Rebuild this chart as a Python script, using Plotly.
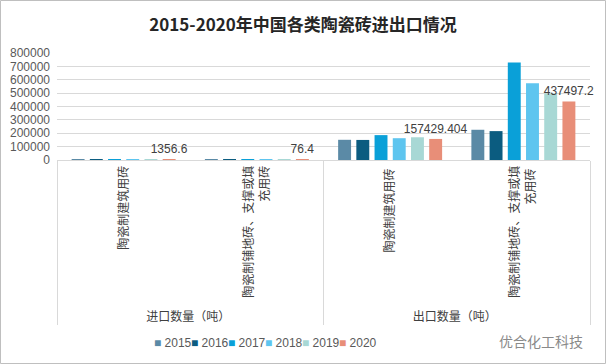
import plotly.graph_objects as go

years = ["2015", "2016", "2017", "2018", "2019", "2020"]
groups = ["进口数量（吨）", "进口数量（吨）", "出口数量（吨）", "出口数量（吨）"]
subcats = ["陶瓷制建筑用砖", "陶瓷制铺地砖、支撑或填<br>充用砖",
           "陶瓷制建筑用砖 ", "陶瓷制铺地砖、支撑或填<br>充用砖 "]

v2015 = [2500, 300, 151000, 226000]
v2016 = [2200, 250, 150000, 216000]
v2017 = [1900, 200, 186000, 729000]
v2018 = [1700, 150, 163000, 574000]
v2019 = [1500, 100, 170000, 498000]
v2020 = [1356.6, 76.4, 157429.404, 437497.2]
series = [v2015, v2016, v2017, v2018, v2019, v2020]
colors = ["#5b8aa6", "#0b5c80", "#0aa0d8", "#5ec5ef", "#a8d8d5", "#e88e78"]

W, H = 606, 364
ml, mr, mt, mb = 57, 16, 53, 204

fig = go.Figure()
for i, (yr, vals, c) in enumerate(zip(years, series, colors)):
    kw = {}
    if yr == "2020":
        kw = dict(text=[str(v) for v in vals], textposition="outside",
                  textfont=dict(size=12, color="#404040", family="Liberation Sans, Arial"),
                  constraintext="none", cliponaxis=False)
    fig.add_trace(go.Bar(name=yr, x=[groups, subcats], y=vals,
                         marker=dict(color=c, line=dict(width=0)), **kw))

fig.update_layout(
    width=W, height=H,
    margin=dict(l=ml, r=mr, t=mt, b=mb, autoexpand=False),
    paper_bgcolor="white", plot_bgcolor="white",
    barmode="group", bargap=0.18, bargroupgap=0.29,
    font=dict(family="Noto Sans CJK SC, sans-serif", size=12, color="#595959"),
    title=dict(text="<b>2015-2020年中国各类陶瓷砖进出口情况</b>", x=0.5, xanchor="center",
               y=1 - 25 / H, yanchor="middle",
               font=dict(size=17, color="#262626", family="Noto Sans CJK SC, serif")),
    showlegend=False,
)
fig.update_yaxes(range=[0, 800000], dtick=100000, gridcolor="#d9d9d9", gridwidth=1,
                 zeroline=False, showline=False, tickformat="d", automargin=False,
                 tickfont=dict(size=12, color="#595959", family="Liberation Sans, Arial"),
                 ticks="", ticklabelstandoff=6)
fig.update_xaxes(type="multicategory", tickangle=-90, showline=True, linecolor="#d9d9d9",
                 showdividers=True, dividercolor="#d9d9d9", dividerwidth=1, automargin=False,
                 tickfont=dict(size=12, color="#404040"), ticks="")

# legend drawn as text entries (one per series)
leg_x0, leg_step, leg_y = 152, 37, 343
for i, (yr, c) in enumerate(zip(years, colors)):
    fig.add_annotation(text=f'<span style="color:{c}">■</span> {yr}',
                       xref="paper", yref="paper",
                       x=(leg_x0 + i * leg_step - ml) / (W - ml - mr), xanchor="left",
                       y=-(leg_y - 160) / (H - mt - mb), yanchor="middle", showarrow=False,
                       font=dict(size=12, color="#595959", family="Liberation Sans, Arial"))

fig.add_annotation(text="优合化工科技", xref="paper", yref="paper",
                   x=(585 - ml) / (W - ml - mr), xanchor="right",
                   y=-(341 - 160) / (H - mt - mb), yanchor="middle", showarrow=False,
                   font=dict(size=14, color="#8a8a8a"))

pw, ph = W - ml - mr, H - mt - mb
fig.add_shape(type="rect", xref="paper", yref="paper",
              x0=(-ml + 0.5) / pw, x1=(pw + mr - 0.5) / pw,
              y0=-(mb - 0.5) / ph, y1=(ph + mt - 0.5) / ph,
              line=dict(color="#bfbfbf", width=1), fillcolor="rgba(0,0,0,0)")

fig.write_html("out.html", config={"displayModeBar": False},
               post_script="document.body.style.margin='0';document.body.style.overflow='hidden';")
